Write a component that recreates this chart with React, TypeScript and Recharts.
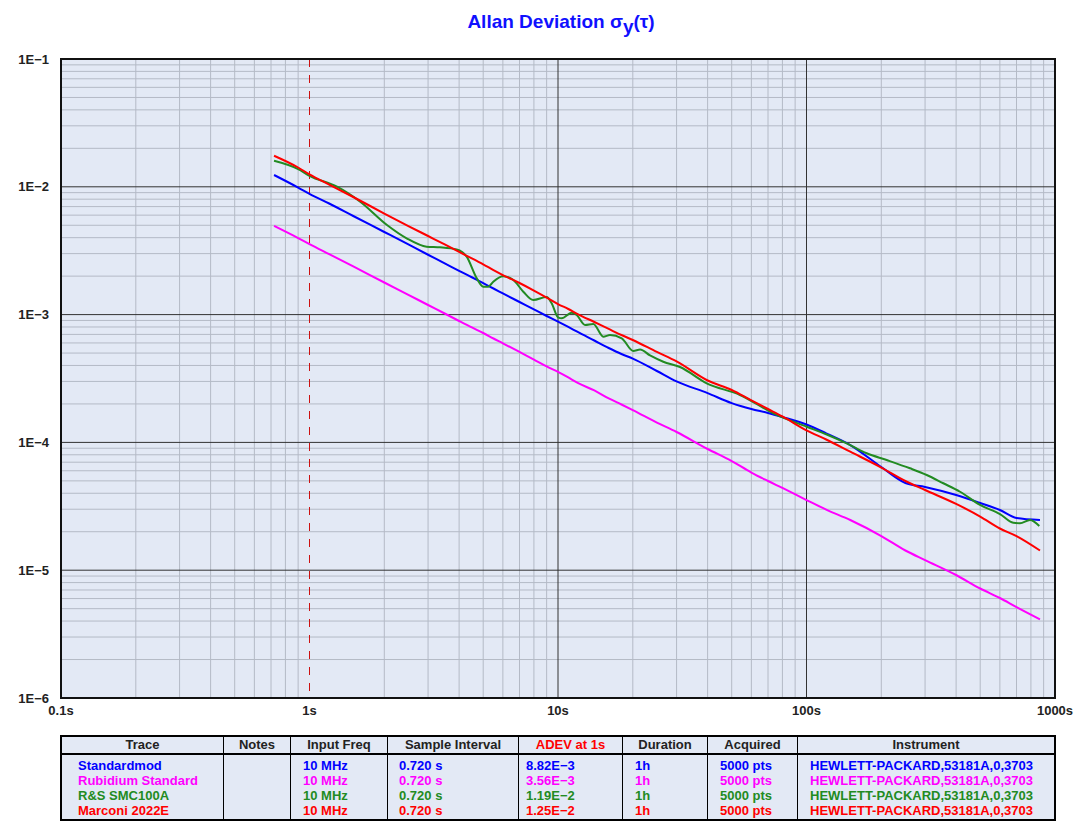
import React from "react";
import { LineChart, Line, XAxis, YAxis, CartesianGrid, ReferenceArea } from "recharts";

const FONT = "'Liberation Sans', Arial, sans-serif";

// averaging times (s) shared by the three smooth traces
const TAU = [
  0.72, 0.9, 1, 1.2, 1.5, 2, 2.5, 3, 3.5, 4, 4.5, 5, 5.5, 6, 7, 8, 9, 10, 11, 12, 14, 16, 18, 20, 25,
  30, 40, 50, 60, 70, 80, 100, 120, 150, 200, 250, 300, 400, 500, 600, 700, 870,
];

const STANDARDMOD = [
  1.237e-2, 9.87e-3, 8.82e-3, 7.4e-3, 5.91e-3, 4.43e-3, 3.54e-3, 2.94e-3, 2.52e-3, 2.2e-3, 1.96e-3,
  1.76e-3, 1.6e-3, 1.465e-3, 1.255e-3, 1.098e-3, 9.75e-4, 8.8e-4, 8.0e-4, 7.31e-4, 6.27e-4, 5.48e-4,
  4.92e-4, 4.53e-4, 3.62e-4, 3.0e-4, 2.43e-4, 2.03e-4, 1.825e-4, 1.7e-4, 1.58e-4, 1.38e-4, 1.178e-4,
  9.54e-5, 6.42e-5, 4.81e-5, 4.48e-5, 3.88e-5, 3.36e-5, 2.96e-5, 2.56e-5, 2.47e-5,
];

const RUBIDIUM = [
  4.94e-3, 3.97e-3, 3.56e-3, 2.97e-3, 2.38e-3, 1.783e-3, 1.428e-3, 1.189e-3, 1.02e-3, 8.91e-4, 7.93e-4,
  7.18e-4, 6.5e-4, 5.96e-4, 5.1e-4, 4.45e-4, 3.93e-4, 3.56e-4, 3.22e-4, 2.92e-4, 2.55e-4, 2.21e-4,
  1.98e-4, 1.79e-4, 1.43e-4, 1.206e-4, 8.88e-5, 7.15e-5, 5.81e-5, 4.99e-5, 4.4e-5, 3.54e-5, 2.98e-5,
  2.47e-5, 1.85e-5, 1.426e-5, 1.2e-5, 9.17e-6, 7.19e-6, 6.06e-6, 5.15e-6, 4.13e-6,
];

const MARCONI = [
  1.75e-2, 1.416e-2, 1.25e-2, 1.042e-2, 8.32e-3, 6.18e-3, 4.93e-3, 4.12e-3, 3.54e-3, 3.09e-3, 2.75e-3,
  2.47e-3, 2.23e-3, 2.04e-3, 1.767e-3, 1.543e-3, 1.36e-3, 1.21e-3, 1.106e-3, 1.01e-3, 8.75e-4, 7.72e-4,
  6.92e-4, 6.33e-4, 5.1e-4, 4.3e-4, 3.05e-4, 2.57e-4, 2.13e-4, 1.825e-4, 1.595e-4, 1.24e-4, 1.054e-4,
  8.46e-5, 6.36e-5, 4.99e-5, 4.24e-5, 3.3e-5, 2.63e-5, 2.12e-5, 1.85e-5, 1.426e-5,
];

// R&S trace wiggles a lot, so it gets its own denser tau list
const RS_TAU = [
  0.72, 0.9, 1.0, 1.29, 1.6, 2.05, 2.46, 2.96, 3.35, 3.91, 4.29, 4.71, 5.0, 5.24, 5.49, 6.02, 6.61, 7.25,
  7.95, 9.0, 9.43, 10.0, 10.35, 11.35, 11.89, 12.85, 13.87, 15.22, 16.19, 18.05, 20.1, 21.4, 23.46, 26.53,
  30.97, 39.67, 54.0, 73.5, 100.2, 120.6, 145.1, 174.7, 210.2, 260.9, 304.6, 355.3, 414.7, 499.3, 600.5,
  679.4, 723, 793, 864.7,
];
const RS_SMC100A = [
  1.6e-2, 1.377e-2, 1.22e-2, 1.002e-2, 7.64e-3, 5.02e-3, 3.95e-3, 3.4e-3, 3.36e-3, 3.23e-3, 2.84e-3,
  1.923e-3, 1.653e-3, 1.653e-3, 1.81e-3, 1.994e-3, 1.866e-3, 1.51e-3, 1.3e-3, 1.373e-3, 1.226e-3, 9.52e-4,
  9.35e-4, 1.035e-3, 9.93e-4, 8.29e-4, 8.44e-4, 6.72e-4, 6.92e-4, 6.53e-4, 5.19e-4, 5.33e-4, 4.79e-4,
  4.28e-4, 3.89e-4, 2.9e-4, 2.35e-4, 1.689e-4, 1.327e-4, 1.153e-4, 9.84e-5, 8.22e-5, 7.28e-5, 6.27e-5,
  5.56e-5, 4.79e-5, 4.11e-5, 3.24e-5, 2.75e-5, 2.35e-5, 2.33e-5, 2.47e-5, 2.22e-5,
];

const X_TICKS = [0.1, 1, 10, 100, 1000];
const Y_TICKS = [1e-6, 1e-5, 1e-4, 1e-3, 1e-2, 1e-1];

const TRACES = [
  { name: "Standardmod", color: "#0000ff", adev: "8.82E\u22123" },
  { name: "Rubidium Standard", color: "#ff00ff", adev: "3.56E\u22123" },
  { name: "R&S SMC100A", color: "#228b22", adev: "1.19E\u22122" },
  { name: "Marconi 2022E", color: "#ff0000", adev: "1.25E\u22122" },
];
const INPUT_FREQ = "10 MHz";
const SAMPLE_INTERVAL = "0.720 s";
const DURATION = "1h";
const ACQUIRED = "5000 pts";
const INSTRUMENT = "HEWLETT-PACKARD,53181A,0,3703";

const toPoints = (taus: number[], vals: number[]) => taus.map((t, i) => ({ t, v: vals[i] }));

const minorOf = (decades: number[]) => {
  const out: number[] = [];
  decades.forEach((d) => {
    for (let k = 2; k <= 9; k++) out.push(d * k);
  });
  return out;
};

const X_MINOR = minorOf([0.1, 1, 10, 100]);
const Y_MINOR = minorOf([1e-6, 1e-5, 1e-4, 1e-3, 1e-2]);

const fmtX = (v: number) => `${v}s`;
const fmtY = (v: number) => `1E\u2212${Math.abs(Math.round(Math.log10(v)))}`;

const XTick = ({ x, y, payload }: any) => (
  <text x={x} y={y + 17} textAnchor="middle" fontSize={13} fontWeight="bold" fill="#222" fontFamily={FONT}>
    {fmtX(payload.value)}
  </text>
);

const YTick = ({ x, y, payload }: any) => (
  <text x={x - 12} y={y + 4.5} textAnchor="end" fontSize={13} fontWeight="bold" fill="#222" fontFamily={FONT}>
    {fmtY(payload.value)}
  </text>
);

const COLS = [
  { title: "Trace", w: 161, pad: 16 },
  { title: "Notes", w: 67, pad: 14 },
  { title: "Input Freq", w: 97, pad: 13 },
  { title: "Sample Interval", w: 131, pad: 12 },
  { title: "ADEV at 1s", w: 104, pad: 8 },
  { title: "Duration", w: 85, pad: 13 },
  { title: "Acquired", w: 90, pad: 13 },
  { title: "Instrument", w: 257, pad: 13 },
];

const cellText = (col: number, tr: (typeof TRACES)[number]) => {
  switch (col) {
    case 0: return tr.name;
    case 1: return "";
    case 2: return INPUT_FREQ;
    case 3: return SAMPLE_INTERVAL;
    case 4: return tr.adev;
    case 5: return DURATION;
    case 6: return ACQUIRED;
    default: return INSTRUMENT;
  }
};

const InfoTable = () => (
  <div
    style={{
      position: "absolute",
      left: 60,
      top: 735,
      width: 996,
      height: 86,
      boxSizing: "border-box",
      border: "2px solid #000",
      background: "#e3e9f5",
      display: "flex",
      fontFamily: FONT,
      fontWeight: "bold",
      fontSize: 13,
    }}
  >
    {COLS.map((c, ci) => (
      <div
        key={c.title}
        style={{ width: c.w, boxSizing: "border-box", borderLeft: ci ? "1px solid #000" : "none", height: "100%" }}
      >
        <div
          style={{
            height: 16,
            lineHeight: "16px",
            borderBottom: "2px solid #000",
            textAlign: "center",
            color: ci === 4 ? "#ff0000" : "#222",
            whiteSpace: "nowrap",
          }}
        >
          {c.title}
        </div>
        <div style={{ paddingTop: 3, paddingLeft: c.pad - (ci ? 1 : 0) }}>
          {TRACES.map((tr) => (
            <div key={tr.name} style={{ height: 15, lineHeight: "15px", color: tr.color, whiteSpace: "nowrap" }}>
              {cellText(ci, tr)}
            </div>
          ))}
        </div>
      </div>
    ))}
  </div>
);

export default function App() {
  return (
    <div style={{ position: "absolute", left: 0, top: 0, width: 1084, height: 835, background: "#fff" }}>
      <LineChart width={1084} height={720} margin={{ top: 59, right: 29, bottom: 0, left: 6 }}>
        <CartesianGrid
          fill="#e3e9f5"
          fillOpacity={1}
          stroke="#b4bac6"
          verticalValues={X_MINOR}
          horizontalValues={Y_MINOR}
        />
        <CartesianGrid stroke="#333" verticalValues={[10, 100]} horizontalValues={[1e-5, 1e-4, 1e-3, 1e-2]} />
        <CartesianGrid stroke="#cc1111" strokeDasharray="8 8" horizontal={false} verticalValues={[1]} />
        <XAxis
          type="number"
          dataKey="t"
          scale="log"
          domain={[0.1, 1000]}
          allowDataOverflow
          ticks={X_TICKS}
          interval={0}
          axisLine={false}
          tickLine={false}
          tickSize={0}
          tickMargin={0}
          height={22}
          tick={<XTick />}
        />
        <YAxis
          type="number"
          scale="log"
          domain={[1e-6, 1e-1]}
          allowDataOverflow
          ticks={Y_TICKS}
          interval={0}
          axisLine={false}
          tickLine={false}
          tickSize={0}
          tickMargin={0}
          width={55}
          tick={<YTick />}
        />
        <Line data={toPoints(TAU, RUBIDIUM)} dataKey="v" type="monotone" stroke="#ff00ff" strokeWidth={2} dot={false} isAnimationActive={false} />
        <Line data={toPoints(TAU, STANDARDMOD)} dataKey="v" type="monotone" stroke="#0000ff" strokeWidth={2} dot={false} isAnimationActive={false} />
        <Line data={toPoints(RS_TAU, RS_SMC100A)} dataKey="v" type="monotone" stroke="#228b22" strokeWidth={2} dot={false} isAnimationActive={false} />
        <Line data={toPoints(TAU, MARCONI)} dataKey="v" type="monotone" stroke="#ff0000" strokeWidth={2} dot={false} isAnimationActive={false} />
        <ReferenceArea x1={0.1} x2={1000} y1={1e-6} y2={1e-1} fill="none" stroke="#111" strokeWidth={2} ifOverflow="visible" />
      </LineChart>
      <div
        style={{
          position: "absolute",
          top: 12,
          left: 0,
          width: 1122,
          textAlign: "center",
          fontFamily: FONT,
          fontWeight: "bold",
          fontSize: 19,
          lineHeight: "20px",
          color: "#1010ff",
        }}
      >
        Allan Deviation σ<span style={{ position: "relative", top: 5 }}>y</span>(τ)
      </div>
      <InfoTable />
    </div>
  );
}
